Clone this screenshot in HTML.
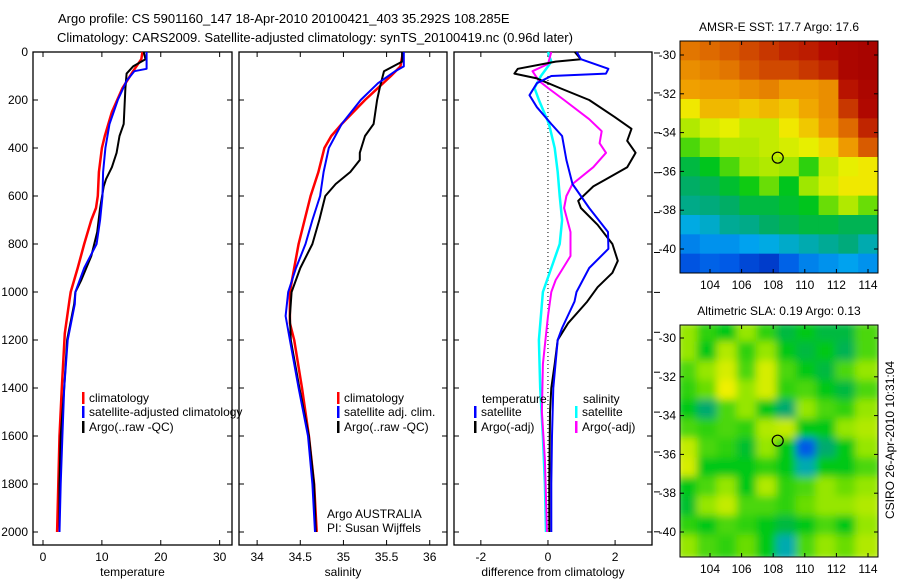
<!DOCTYPE html>
<html><head><meta charset="utf-8"><style>
body{margin:0;background:#fff}
svg{display:block;font-family:"Liberation Sans",sans-serif}
text{fill:#000}
</style></head><body>
<svg id="fig" width="900" height="580" viewBox="0 0 900 580" xmlns="http://www.w3.org/2000/svg">
<text x="58" y="23" font-size="13">Argo profile: CS 5901160_147 18-Apr-2010 20100421_403 35.292S 108.285E</text>
<text x="57" y="42" font-size="13">Climatology: CARS2009. Satellite-adjusted climatology: synTS_20100419.nc (0.96d later)</text>
<g id="plots"></g>
<text transform="translate(894,440) rotate(-90)" text-anchor="middle" font-size="12">CSIRO 26-Apr-2010 10:31:04</text>
</svg>
<script>
// ---- data ----
const tClimDepth=[0,30,80,150,250,350,400,500,600,650,700,800,900,1000,1033,1172,1400,1600,1800,2000];
const tClimVal=[16.9,16.7,15.3,13.5,11.7,10.5,10.0,9.5,9.3,9.0,8.2,7.0,5.9,4.7,4.5,3.7,3.2,2.8,2.6,2.4];
const tSatDepth=[0,70,80,120,200,300,400,500,600,700,800,900,1000,1050,1200,1400,1600,1800,2000];
const tSatVal=[17.6,17.6,15.5,14.2,12.7,11.3,10.6,10.2,10.1,9.7,9.1,7.0,5.5,5.4,4.2,3.6,3.3,3.0,2.8];
const tArgoDepth=[0,30,60,90,150,300,350,420,480,530,560,650,750,850,950,1000,1050,1200,1400,1600,1800,2000];
const tArgoVal=[17.1,17.4,15.3,14.2,14.0,13.7,13.0,12.5,11.7,10.7,10.3,9.7,9.2,8.2,6.5,5.5,5.3,4.1,3.6,3.0,2.8,2.8];

const sClimDepth=[0,60,100,200,300,350,400,500,600,700,800,900,1000,1130,1200,1400,1600,1800,2000];
const sClimVal=[35.69,35.66,35.55,35.25,34.98,34.86,34.78,34.71,34.62,34.55,34.48,34.43,34.38,34.38,34.43,34.52,34.60,34.66,34.69];
const sSatDepth=[0,60,80,130,200,300,400,500,600,700,800,900,1000,1100,1200,1400,1600,1800,2000];
const sSatVal=[35.70,35.70,35.60,35.40,35.20,34.98,34.83,34.77,34.73,34.64,34.56,34.45,34.36,34.33,34.38,34.48,34.59,34.64,34.67];
const sArgoDepth=[0,40,80,150,200,300,350,420,450,500,550,600,700,800,900,1000,1100,1200,1400,1600,1800,2000];
const sArgoVal=[35.68,35.68,35.47,35.42,35.39,35.35,35.25,35.19,35.19,35.08,34.91,34.79,34.72,34.64,34.50,34.40,34.38,34.39,34.49,34.60,34.66,34.68];

const dTArgoDepth=[0,30,40,70,90,110,150,200,270,320,370,420,480,530,560,620,650,720,800,870,920,980,1040,1130,1200,1300,1400,1500,1800,2000];
const dTArgoVal=[0.8,0.98,0.23,-0.9,-1.0,-0.33,0.35,1.23,1.98,2.49,2.36,2.61,2.36,1.73,1.35,0.9,0.98,1.48,1.92,2.08,1.92,1.48,1.17,0.6,0.29,0.2,0.1,0.06,0.04,0.04];
const dTSatDepth=[0,30,70,90,100,130,180,230,300,350,450,550,650,750,820,900,1000,1040,1150,1200,1400,1600,1800,2000];
const dTSatVal=[0.86,0.98,1.8,1.73,0.1,-0.33,-0.55,-0.33,0.1,0.42,0.55,0.73,1.23,1.79,1.8,1.23,0.85,0.79,0.42,0.29,0.16,0.12,0.1,0.1];
const dSArgoDepth=[0,50,80,120,150,200,280,330,380,420,480,550,600,650,750,850,950,1000,1100,1300,1500,1700,2000];
const dSArgoVal=[0.1,0,-0.46,-0.27,0,0.48,1.23,1.6,1.54,1.73,1.35,0.73,0.55,0.48,0.67,0.67,0.23,0.1,0,-0.15,-0.18,-0.09,-0.03];
const dSSatDepth=[0,40,60,100,150,200,300,400,500,600,700,800,900,1000,1100,1200,1400,1600,1800,2000];
const dSSatVal=[0,0.1,0,-0.21,-0.4,-0.27,0.03,0.2,0.29,0.35,0.42,0.35,0.1,-0.15,-0.21,-0.27,-0.23,-0.15,-0.09,-0.06];

const depthTicks=[0,200,400,600,800,1000,1200,1400,1600,1800,2000];
const tempTicks=[0,10,20,30];
const salTicks=[34,34.5,35,35.5,36];
const diffTicks=[-2,0,2];
const lonTicks=[104,106,108,110,112,114];
const latTicks=[-30,-32,-34,-36,-38,-40];
const argoLon=108.285, argoLat=-35.292;

// SST map grid (normalised colour index, top row = north)
const sstGrid=[
[.82,.84,.86,.88,.90,.92,.93,.95,.97,.98],
[.78,.80,.82,.86,.88,.88,.90,.92,.97,.98],
[.75,.76,.76,.78,.80,.76,.76,.78,.94,.97],
[.66,.72,.72,.70,.72,.70,.74,.78,.90,.96],
[.58,.62,.64,.60,.60,.66,.70,.76,.84,.92],
[.50,.54,.58,.58,.60,.62,.64,.68,.76,.86],
[.40,.44,.50,.56,.58,.56,.48,.60,.64,.66],
[.36,.38,.42,.46,.52,.44,.56,.62,.66,.66],
[.33,.34,.36,.40,.40,.42,.44,.52,.58,.52],
[.26,.28,.32,.33,.36,.38,.40,.40,.38,.38],
[.20,.22,.22,.24,.26,.28,.30,.32,.34,.30],
[.14,.16,.15,.12,.10,.16,.20,.22,.24,.22]];
const slaGrid=[
[.55,.48,.45,.55,.48,.40,.45,.40,.40,.50],
[.55,.45,.58,.48,.55,.45,.40,.45,.38,.50],
[.50,.55,.62,.50,.62,.50,.45,.40,.50,.55],
[.48,.52,.65,.55,.62,.48,.50,.45,.40,.50],
[.45,.35,.50,.55,.45,.35,.55,.50,.48,.55],
[.50,.48,.50,.48,.58,.60,.45,.45,.55,.58],
[.60,.50,.48,.42,.55,.45,.15,.35,.45,.55],
[.62,.45,.45,.45,.48,.45,.30,.45,.45,.50],
[.45,.50,.55,.45,.58,.48,.50,.55,.52,.55],
[.42,.55,.60,.50,.50,.48,.52,.55,.55,.58],
[.48,.45,.50,.48,.45,.40,.45,.50,.45,.55],
[.55,.50,.48,.52,.45,.30,.50,.55,.52,.58]];

// ---- drawing ----
const NS='http://www.w3.org/2000/svg';
const root=document.getElementById('plots');
function mk(tag,attrs,parent){const e=document.createElementNS(NS,tag);for(const k in attrs)e.setAttribute(k,attrs[k]);(parent||root).appendChild(e);return e;}
const Y0=52, YS=0.24;
const yD=d=>Y0+d*YS;

function panel(name,x0,x1,vmin,vmax,ticks,fmt,label){
  const g=mk('g',{});
  
  
  const xf=v=>x0+(v-vmin)/(vmax-vmin)*(x1-x0);
  const fr=mk('rect',{x:x0,y:Y0,width:x1-x0,height:545-Y0,fill:'none',stroke:'#000','stroke-width':1.3},g);
  
  
  for(const d of depthTicks){
    const y=yD(d);
    mk('line',{x1:x0,x2:x0+5,y1:y,y2:y,stroke:'#000'},g);
    mk('line',{x1:x1-5,x2:x1,y1:y,y2:y,stroke:'#000'},g);
  }
  for(const t of ticks){
    const x=xf(t);
    mk('line',{x1:x,x2:x,y1:545,y2:540,stroke:'#000'},g);
    mk('line',{x1:x,x2:x,y1:Y0,y2:Y0+5,stroke:'#000'},g);
    const tx=mk('text',{x:x,y:561,'text-anchor':'middle','font-size':12},g);
    tx.textContent=fmt(t);
    
    
  }
  const lb=mk('text',{x:(x0+x1)/2,y:576,'text-anchor':'middle','font-size':12},g);
  lb.textContent=label;
  
  
  return {g,xf};
}
function series(p,depths,vals,color,name,w){
  const pts=depths.map((d,i)=>p.xf(vals[i]).toFixed(1)+','+yD(d).toFixed(1)).join(' ');
  const l=mk('polyline',{points:pts,fill:'none',stroke:color,'stroke-width':w||2,'stroke-linejoin':'round'},p.g);
  
  
}
function legend(p,x,y,color,label,name){
  mk('rect',{x:x,y:y-10,width:2.5,height:12,fill:color},p.g);
  const t=mk('text',{x:x+7,y:y,'font-size':12},p.g);
  t.textContent=label;
  
  
}

for(const d of depthTicks){
  const t=mk('text',{x:28,y:yD(d)+4,'text-anchor':'end','font-size':12});
  t.textContent=d;
  
  
}

const p1=panel('temperature',33,232,-1.7,32.1,tempTicks,v=>v,'temperature');
series(p1,tClimDepth,tClimVal,'#f00','temp-climatology-line',2.5);
series(p1,tArgoDepth,tArgoVal,'#000','temp-argo-line',2);
series(p1,tSatDepth,tSatVal,'#00f','temp-satellite-line',2);
legend(p1,82,402,'#f00','climatology','legend-climatology');
legend(p1,82,416,'#00f','satellite-adjusted climatology','legend-satellite-adjusted');
legend(p1,82,431,'#000','Argo(..raw -QC)','legend-argo');

const p2=panel('salinity',239,447,33.79,36.2,salTicks,v=>v,'salinity');
series(p2,sClimDepth,sClimVal,'#f00','sal-climatology-line',2.5);
series(p2,sArgoDepth,sArgoVal,'#000','sal-argo-line',2);
series(p2,sSatDepth,sSatVal,'#00f','sal-satellite-line',2);
legend(p2,337,402,'#f00','climatology','legend-sal-climatology');
legend(p2,337,416,'#00f','satellite adj. clim.','legend-sal-satellite');
legend(p2,337,431,'#000','Argo(..raw -QC)','legend-sal-argo');
const a1=mk('text',{x:327,y:518,'font-size':12},p2.g);a1.textContent='Argo AUSTRALIA';


const a2=mk('text',{x:327,y:532,'font-size':12},p2.g);a2.textContent='PI: Susan Wijffels';



const p3=panel('difference',454,652,-2.8,3.1,diffTicks,v=>v,'difference from climatology');
mk('line',{x1:p3.xf(0),x2:p3.xf(0),y1:yD(100),y2:yD(2000),stroke:'#000','stroke-dasharray':'1,3'},p3.g);
series(p3,dSSatDepth,dSSatVal,'#0ff','diff-sal-satellite-line',2.5);
series(p3,dSArgoDepth,dSArgoVal,'#f0f','diff-sal-argo-line',2);
series(p3,dTArgoDepth,dTArgoVal,'#000','diff-temp-argo-line',2);
series(p3,dTSatDepth,dTSatVal,'#00f','diff-temp-satellite-line',2);
for(let i=0;i<13;i++){mk('line',{x1:654,x2:660,y1:53+i*39.9,y2:53+i*39.9,stroke:'#000'});}
const lt=mk('text',{x:482,y:403,'font-size':12},p3.g);lt.textContent='temperature';


const ls=mk('text',{x:583,y:403,'font-size':12},p3.g);ls.textContent='salinity';


legend(p3,474,416,'#00f','satellite','legend-temp-satellite');
legend(p3,474,431,'#000','Argo(-adj)','legend-temp-argo');
legend(p3,575,416,'#0ff','satellite','legend-sal-satellite-diff');
legend(p3,575,431,'#f0f','Argo(-adj)','legend-sal-argo-diff');

// ---- maps ----
const cmapStops=[[0,[0,0,150]],[0.15,[0,90,230]],[0.25,[0,170,240]],[0.35,[0,170,110]],[0.45,[0,200,20]],[0.55,[150,230,0]],[0.65,[240,240,0]],[0.75,[240,160,0]],[0.85,[220,100,0]],[0.95,[180,10,0]],[1,[160,0,0]]];
function cmap(v){
  v=Math.max(0,Math.min(1,v));
  for(let i=1;i<cmapStops.length;i++){
    const [a,ca]=cmapStops[i-1],[b,cb]=cmapStops[i];
    if(v<=b){const t=(v-a)/(b-a);return 'rgb('+ca.map((c,k)=>Math.round(c+(cb[k]-c)*t)).join(',')+')';}
  }
  return 'rgb(160,0,0)';
}
function map(name,x0,y0,w,h,lat30y,grid,title,blur){
  const g=mk('g',{});
  
  
  const lonX=lo=>710+(lo-104)*15.8;
  const latY=la=>lat30y+(-30-la)*19.4;
  const cid='clip'+name;
  const cp=mk('clipPath',{id:cid},g);mk('rect',{x:x0,y:y0,width:w,height:h},cp);
  const cg=mk('g',{'clip-path':'url(#'+cid+')'},g);
  const inner=mk('g',blur?{filter:'url(#bl)'}:{},cg);
  const rows=grid.length, cols=grid[0].length, cw=w/cols, ch=h/rows;
  grid.forEach((row,r)=>row.forEach((v,c)=>{
    const cell=mk('rect',{x:x0+c*cw-(blur?3:0),y:y0+r*ch-(blur?3:0),width:cw+(blur?6:0.5),height:ch+(blur?6:0.5),fill:cmap(v)},inner);
    
    
  }));
  mk('rect',{x:x0,y:y0,width:w,height:h,fill:'none',stroke:'#000','stroke-width':1},g);
  for(const lo of lonTicks){const x=lonX(lo);
    mk('line',{x1:x,x2:x,y1:y0,y2:y0+4,stroke:'#000'},g);
    mk('line',{x1:x,x2:x,y1:y0+h,y2:y0+h-4,stroke:'#000'},g);
    const t=mk('text',{x:x,y:y0+h+16,'text-anchor':'middle','font-size':12},g);t.textContent=lo;
    
    }
  for(const la of latTicks){const y=latY(la);
    mk('line',{x1:x0,x2:x0+4,y1:y,y2:y,stroke:'#000'},g);
    mk('line',{x1:x0+w,x2:x0+w-4,y1:y,y2:y,stroke:'#000'},g);
    const t=mk('text',{x:x0-4,y:y+4,'text-anchor':'end','font-size':12},g);t.textContent=la;
    
    }
  const c=mk('circle',{cx:lonX(argoLon),cy:latY(argoLat),r:5.5,fill:'none',stroke:'#000','stroke-width':1.2},g);
  
  
  const tt=mk('text',{x:x0+w/2,y:y0-10,'text-anchor':'middle','font-size':12},g);tt.textContent=title;
  
  
}
const defs=mk('defs',{});const f=mk('filter',{id:'bl',x:'-10%',y:'-10%',width:'120%',height:'120%'},defs);
mk('feGaussianBlur',{stdDeviation:4},f);
map('sst-map',680,41,198,232,55,sstGrid,'AMSR-E SST: 17.7 Argo: 17.6',false);
map('sla-map',680,325,198,232,338,slaGrid,'Altimetric SLA: 0.19 Argo: 0.13',true);
</script>
</body></html>
